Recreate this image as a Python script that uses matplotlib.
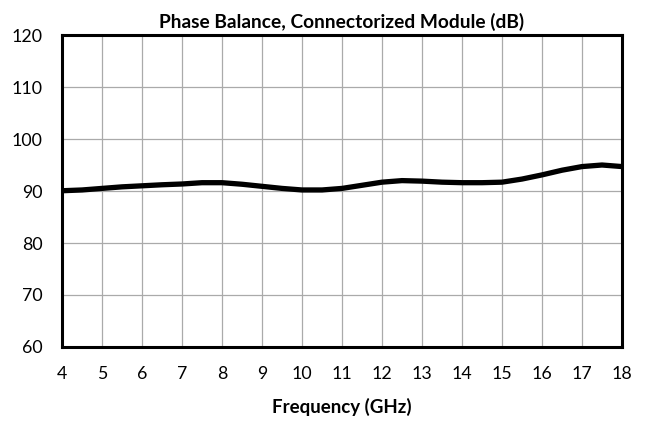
import matplotlib
matplotlib.use("Agg")
import matplotlib.pyplot as plt

freq = [4, 4.5, 5, 5.5, 6, 6.5, 7, 7.5, 8, 8.5, 9, 9.5, 10, 10.5, 11, 11.5,
        12, 12.5, 13, 13.5, 14, 14.5, 15, 15.5, 16, 16.5, 17, 17.5, 18]
phase = [90.05, 90.2, 90.5, 90.8, 91.0, 91.2, 91.35, 91.6, 91.6, 91.3, 90.9, 90.5,
         90.2, 90.2, 90.5, 91.1, 91.7, 92.0, 91.9, 91.7, 91.6, 91.6, 91.7, 92.3,
         93.1, 94.0, 94.7, 95.0, 94.7]
xticks = list(range(4, 19))
yticks = list(range(60, 121, 10))

plt.rcParams['font.family'] = ['Lato', 'DejaVu Sans']

fig = plt.figure(figsize=(6.46, 4.21), dpi=100)
ax = fig.add_axes([0.096, 0.1758, 0.8669, 0.741])
ax.plot(freq, phase, color='black', lw=3.8, solid_capstyle='butt', zorder=3)
ax.set_xlim(4, 18)
ax.set_ylim(60, 120)
ax.set_xticks(xticks)
ax.set_yticks(yticks)
ax.grid(True, color='#aaaaaa', lw=0.9)
ax.set_axisbelow(True)
for s in ax.spines.values():
    s.set_linewidth(2.2)
    s.set_color('black')
ax.tick_params(length=0, labelsize=12.8)
ax.tick_params(axis='x', pad=14)
ax.tick_params(axis='y', pad=14)
ax.set_title('Phase Balance, Connectorized Module (dB)', fontsize=13.8,
             fontweight='bold', pad=5)
ax.set_xlabel('Frequency (GHz)', fontsize=13.5, fontweight='bold', labelpad=11)
fig.savefig('out.png', dpi=100)
